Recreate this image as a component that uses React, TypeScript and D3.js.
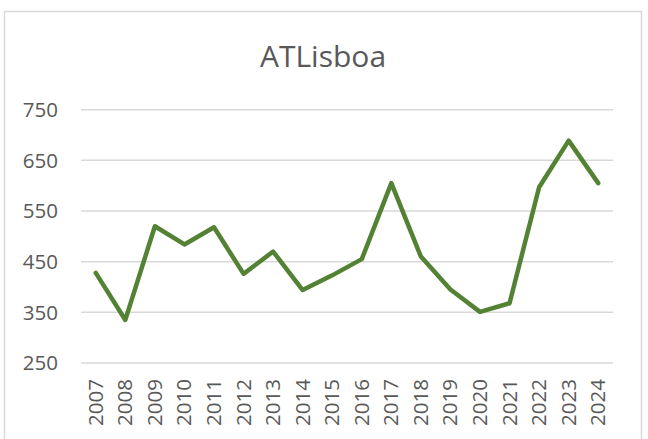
import { useEffect, useRef } from 'react'
import * as d3 from 'd3'

const years = ['2007', '2008', '2009', '2010', '2011', '2012', '2013', '2014', '2015', '2016', '2017', '2018', '2019', '2020', '2021', '2022', '2023', '2024']
const values = [428, 335, 520, 484, 518, 426, 470, 394, 423, 455, 605, 460, 395, 351, 368, 597, 689, 605]
const yTicks = [250, 350, 450, 550, 650, 750]
const title = 'ATLisboa'

const W = 648
const H = 439
const FONT = '"Open Sans", "Liberation Sans", sans-serif'

export default function App() {
  const svgRef = useRef<SVGSVGElement>(null)

  useEffect(() => {
    if (!svgRef.current) return
    const svg = d3.select(svgRef.current)
    svg.selectAll('*').remove()

    const left = 81
    const right = 613
    const top = 109.7
    const bottom = 363

    // chart frame
    svg.append('rect').attr('x', 4.5).attr('y', 11.5).attr('width', 637).attr('height', H + 10)
      .attr('fill', '#fff').attr('stroke', '#d9d9d9').attr('stroke-width', 1.5)

    svg.append('text').attr('x', 323).attr('y', 66.5).attr('text-anchor', 'middle')
      .attr('font-family', FONT).attr('font-size', 30).attr('fill', '#595959').text(title)

    const x = d3.scaleBand<string>().domain(years).range([left, right]).padding(0)
    const cx = (d: string) => (x(d) ?? 0) + x.bandwidth() / 2
    const y = d3.scaleLinear().domain([250, 750]).range([bottom, top])

    const grid = svg.append('g')
    yTicks.forEach((t) => {
      grid.append('line').attr('x1', left).attr('x2', right).attr('y1', y(t)).attr('y2', y(t))
        .attr('stroke', '#d9d9d9').attr('stroke-width', 1.5)
      grid.append('text').attr('x', 58).attr('y', y(t)).attr('dy', '0.36em').attr('text-anchor', 'end')
        .attr('font-family', FONT).attr('font-size', 20.5).attr('fill', '#595959').text(t)
    })

    years.forEach((yr) => {
      svg.append('text')
        .attr('transform', `translate(${cx(yr) + 7},${bottom + 16}) rotate(-90)`)
        .attr('text-anchor', 'end')
        .attr('font-family', FONT).attr('font-size', 20.5).attr('fill', '#595959').text(yr)
    })

    const line = d3.line<number>().x((_, i) => cx(years[i])).y((d) => y(d))
    svg.append('path').datum(values).attr('d', line).attr('fill', 'none')
      .attr('stroke', '#548235').attr('stroke-width', 4.5)
      .attr('stroke-linejoin', 'round').attr('stroke-linecap', 'round')
  }, [])

  return (
    <div style={{ position: 'absolute', left: 0, top: 0, width: W, height: H, background: '#fff' }}>
      <svg ref={svgRef} width={W} height={H} style={{ display: 'block' }} />
    </div>
  )
}
